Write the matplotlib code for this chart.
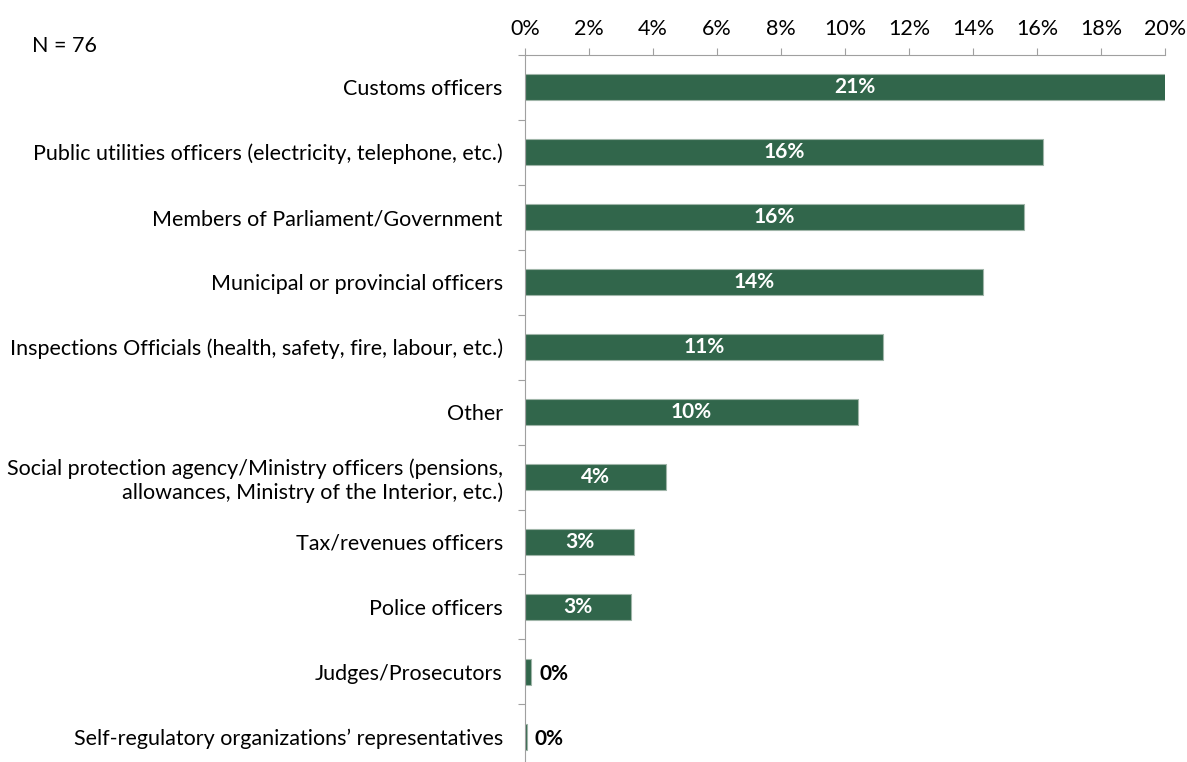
import matplotlib.pyplot as plt
from matplotlib.ticker import FuncFormatter, MultipleLocator

plt.rcParams['font.family'] = ['Lato', 'DejaVu Sans']

categories = [
    'Customs officers',
    'Public utilities officers (electricity, telephone, etc.)',
    'Members of Parliament/Government',
    'Municipal or provincial officers',
    'Inspections Officials (health, safety, fire, labour, etc.)',
    'Other',
    'Social protection agency/Ministry officers (pensions,\nallowances, Ministry of the Interior, etc.)',
    'Tax/revenues officers',
    'Police officers',
    'Judges/Prosecutors',
    'Self-regulatory organizations\u2019 representatives',
]
shares = [20.6, 16.2, 15.6, 14.3, 11.2, 10.4, 4.4, 3.4, 3.3, 0.2, 0.05]
n_respondents = 76

BAR = '#31664b'
EDGE = '#9fb5a8'
FS = 15.5

fig = plt.figure(figsize=(11.87, 7.62), dpi=100)
ax = fig.add_axes([0.4423, -0.0098, 0.5392, 0.9382])

y = list(range(len(categories)))
ax.barh(y, shares, height=0.4, color=BAR, edgecolor=EDGE, linewidth=0.8)
ax.set_xlim(0, 20)
ax.set_ylim(len(categories) - 0.5, -0.5)

for yi, v in zip(y, shares):
    label = f'{v:.0f}%'
    if v >= 2:
        ax.text(v / 2, yi, label, ha='center', va='center', color='white',
                fontsize=FS - 0.5, fontweight='bold')
    else:
        ax.text(v + 0.25, yi + 0.03, label, ha='left', va='center', color='black',
                fontsize=FS - 0.5, fontweight='bold')

ax.xaxis.tick_top()
ax.xaxis.set_major_locator(MultipleLocator(2))
ax.xaxis.set_major_formatter(FuncFormatter(lambda x, _: f'{x:.0f}%'))
ax.tick_params(axis='x', length=5, color='#a0a0a0', labelsize=FS, pad=6)

# category boundaries carry the tick marks, labels sit at the bar centres
ax.set_yticks([i + 0.5 for i in range(-1, len(categories))], minor=False)
ax.set_yticklabels([])
ax.set_yticks(y, minor=True)
ax.set_yticklabels(categories, minor=True, fontsize=FS, ha='right')
ax.tick_params(axis='y', which='major', length=5, color='#a0a0a0')
ax.tick_params(axis='y', which='minor', length=0, pad=16)

for side in ['right', 'bottom']:
    ax.spines[side].set_visible(False)
for side in ['top', 'left']:
    ax.spines[side].set_color('#a0a0a0')

fig.text(0.027, 0.94, f'N = {n_respondents}', fontsize=FS, ha='left', va='center')

fig.savefig('out.png', dpi=100)
